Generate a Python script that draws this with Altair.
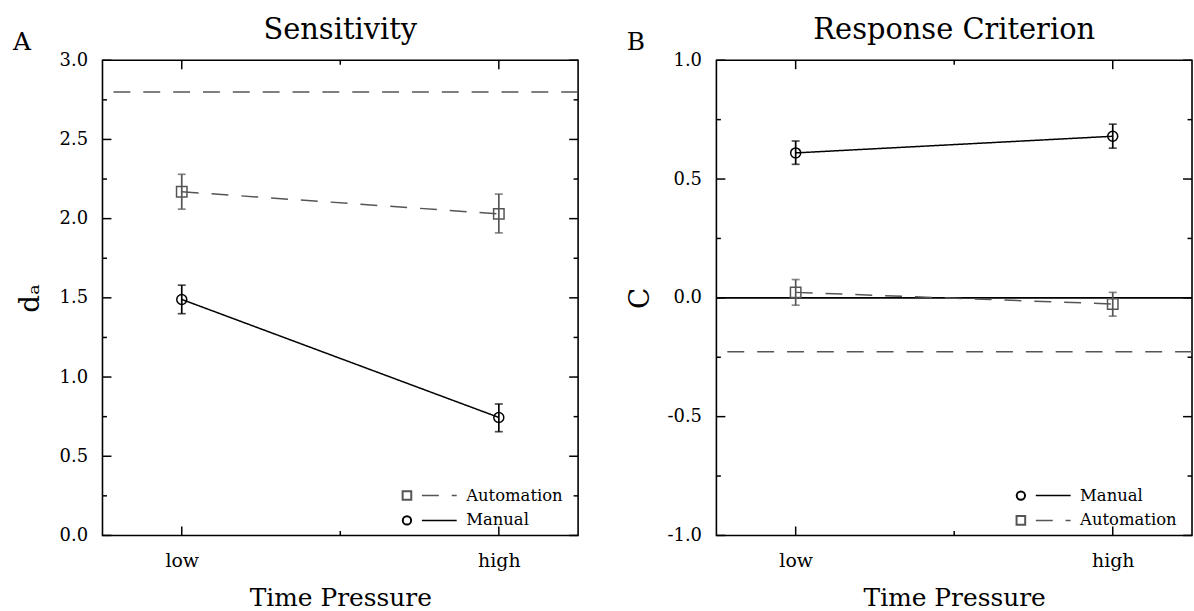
import altair as alt
import pandas as pd

FONT = "DejaVu Serif"
GRAY = "#555555"
BLACK = "#000000"

# ---------------- data ----------------
categories = ["low", "high"]          # Time Pressure levels (x positions 0 and 1)
series_names = ["Automation", "Manual"]

# Panel A: Sensitivity (d_a)
sens_auto = [2.17, 2.03]
sens_auto_lo = [2.06, 1.91]
sens_auto_hi = [2.28, 2.155]
sens_manual = [1.49, 0.745]
sens_manual_lo = [1.40, 0.655]
sens_manual_hi = [1.58, 0.83]
sens_reference = [2.80]

# Panel B: Response Criterion (C)
crit_manual = [0.61, 0.68]
crit_manual_lo = [0.562, 0.63]
crit_manual_hi = [0.66, 0.731]
crit_auto = [0.023, -0.026]
crit_auto_lo = [-0.031, -0.077]
crit_auto_hi = [0.077, 0.023]
crit_reference = [-0.227]
crit_zero = [0.0]

# axis ticks
sens_y_major = [0.0, 0.5, 1.0, 1.5, 2.0, 2.5, 3.0]
sens_y_minor = [0.25, 0.75, 1.25, 1.75, 2.25, 2.75]
crit_y_major = [-1.0, -0.5, 0.0, 0.5, 1.0]
crit_y_minor = [-0.75, -0.25, 0.25, 0.75]
x_major = [0, 1]
x_minor = [0.5]

W, H = 478, 477.6
XDOM = [-0.25, 1.25]


def one(**kw):
    return pd.DataFrame([kw])


def panel(auto, auto_lo, auto_hi, man, man_lo, man_hi, ref, zero, ydom,
          ymaj, ymin, title, letter, ytitle, ytitle_x, legend_order, left_ext):
    rows = []
    for s, v, lo, hi in [("Automation", auto, auto_lo, auto_hi), ("Manual", man, man_lo, man_hi)]:
        for i, c in enumerate(categories):
            rows.append(dict(series=s, cat=c, pos=i, val=v[i], lo=lo[i], hi=hi[i]))
    df = pd.DataFrame(rows)
    caps = pd.concat([
        df[["series", "pos", "lo"]].rename(columns={"lo": "cap"}),
        df[["series", "pos", "hi"]].rename(columns={"hi": "cap"}),
    ])

    xs = alt.Scale(domain=XDOM, nice=False, zero=False)
    ys = alt.Scale(domain=ydom, nice=False, zero=False)
    col = alt.Color("series:N", scale=alt.Scale(domain=series_names, range=[GRAY, BLACK]), legend=None)
    dash = alt.StrokeDash("series:N", scale=alt.Scale(domain=series_names, range=[[17, 13], [1, 0]]), legend=None)

    xaxis = alt.Axis(values=x_major, labelExpr="%s[datum.value]" % str(categories),
                     ticks=False, tickSize=0, domain=False, grid=False,
                     labelFont=FONT, labelFontSize=19, labelPadding=16, labelColor="black",
                     title="Time Pressure", titleFont=FONT, titleFontSize=25, titleFontWeight="normal",
                     titleX=W / 2, titleY=70.5, titleBaseline="alphabetic", titleAlign="center",
                     titleColor="black")
    yaxis = alt.Axis(values=ymaj, labelExpr="replace(format(datum.value, '.1f'), '\u2212', '-')",
                     ticks=False, tickSize=0, domain=False, grid=False,
                     labelFont=FONT, labelFontSize=18, labelPadding=15, labelColor="black",
                     title=ytitle, titleFont=FONT, titleFontSize=28, titleFontWeight="normal",
                     titleAngle=270, titleX=ytitle_x, titleY=H / 2, titleBaseline="alphabetic",
                     titleAlign="center", titleColor="black")

    def X(f):
        return alt.X(f, scale=xs, axis=xaxis)

    def Y(f):
        return alt.Y(f, scale=ys, axis=yaxis)

    lines = alt.Chart(df).mark_line(strokeWidth=1.5).encode(
        x=X("pos:Q"), y=Y("val:Q"), color=col, strokeDash=dash, detail="series:N")

    bars = alt.Chart(df).mark_rule(strokeWidth=1.7).encode(
        x=X("pos:Q"), y=Y("lo:Q"), y2="hi:Q", color=col)

    capm = alt.Chart(caps).mark_tick(orient="horizontal", size=8, thickness=1.7).encode(
        x=X("pos:Q"), y=Y("cap:Q"), color=col)

    pts = alt.Chart(df).mark_point(filled=False, strokeWidth=1.5, opacity=1).encode(
        x=X("pos:Q"), y=Y("val:Q"),
        color=col,
        shape=alt.Shape("series:N", scale=alt.Scale(domain=series_names, range=["square", "circle"]), legend=None),
        size=alt.Size("series:N", scale=alt.Scale(domain=series_names, range=[110, 100]), legend=None))

    layers = []
    refl = alt.Chart(pd.DataFrame({"v": ref})).mark_rule(
        color=GRAY, strokeWidth=1.5, strokeDash=[17, 13]).encode(y=Y("v:Q"))
    layers.append(refl)
    if zero:
        layers.append(alt.Chart(pd.DataFrame({"v": zero})).mark_rule(
            color=BLACK, strokeWidth=1.6).encode(y=Y("v:Q")))
    layers += [lines, bars, capm, pts]

    # inward frame ticks
    for vals, ln in [(ymaj, 9), (ymin, 4.5)]:
        d = pd.DataFrame({"v": vals})
        layers.append(alt.Chart(d).mark_rule(color=BLACK, strokeWidth=1.5).encode(
            y=Y("v:Q"), x=alt.value(0), x2=alt.value(ln)))
        layers.append(alt.Chart(d).mark_rule(color=BLACK, strokeWidth=1.5).encode(
            y=Y("v:Q"), x=alt.value(W), x2=alt.value(W - ln)))
    for vals, ln in [(x_major, 9), (x_minor, 4.5)]:
        d = pd.DataFrame({"v": vals})
        layers.append(alt.Chart(d).mark_rule(color=BLACK, strokeWidth=1.5).encode(
            x=X("v:Q"), y=alt.value(H), y2=alt.value(H - ln)))
        layers.append(alt.Chart(d).mark_rule(color=BLACK, strokeWidth=1.5).encode(
            x=X("v:Q"), y=alt.value(0), y2=alt.value(ln)))

    # legend (inside, bottom right)
    for k, s in enumerate(legend_order):
        yrow = 437.5 + 25 * k
        c = GRAY if s == "Automation" else BLACK
        shp = "square" if s == "Automation" else "circle"
        d = one(label=s)
        layers.append(alt.Chart(d).mark_point(shape=shp, filled=False, color=c, strokeWidth=2,
                                              size=70 if shp == "circle" else 75, opacity=1).encode(
            x=alt.value(306), y=alt.value(yrow)))
        layers.append(alt.Chart(d).mark_rule(color=c, strokeWidth=1.5,
                                             strokeDash=[17, 13] if s == "Automation" else [1, 0]).encode(
            x=alt.value(321), x2=alt.value(356), y=alt.value(yrow), y2=alt.value(yrow)))
        layers.append(alt.Chart(d).mark_text(font=FONT, fontSize=16.5, align="left", baseline="middle",
                                             color="black").encode(
            x=alt.value(365.5), y=alt.value(yrow), text="label:N"))

    # panel title and letter
    layers.append(alt.Chart(one(t=title)).mark_text(font=FONT, fontSize=29, align="center",
                                                    baseline="alphabetic", color="black").encode(
        x=alt.value(W / 2), y=alt.value(-21), text="t:N"))
    layers.append(alt.Chart(one(t=letter)).mark_text(font=FONT, fontSize=25, align="left",
                                                     baseline="alphabetic", color="black").encode(
        x=alt.value(-90), y=alt.value(-10.5), text="t:N"))
    # invisible extent marker (fixes panel placement)
    layers.append(alt.Chart(one(t=0)).mark_rule(color="white", opacity=0, strokeWidth=0.1).encode(
        x=alt.value(left_ext), x2=alt.value(left_ext), y=alt.value(-57.7), y2=alt.value(0)))

    return alt.layer(*layers).properties(width=W, height=H)


A = panel(sens_auto, sens_auto_lo, sens_auto_hi, sens_manual, sens_manual_lo, sens_manual_hi,
          sens_reference, None, [0, 3], sens_y_major, sens_y_minor,
          "Sensitivity", "A", "d\u2090", -64.5, ["Automation", "Manual"], -101.7)
B = panel(crit_auto, crit_auto_lo, crit_auto_hi, crit_manual, crit_manual_lo, crit_manual_hi,
          crit_reference, crit_zero, [-1, 1], crit_y_major, crit_y_minor,
          "Response Criterion", "B", "C", -68.5, ["Manual", "Automation"], -136.0)

chart = alt.hconcat(A, B, spacing=0).properties(padding=0, background="white").configure_view(
    stroke="black", strokeWidth=1.6)

chart.save("out.html", embed_options={"renderer": "svg", "actions": False})
